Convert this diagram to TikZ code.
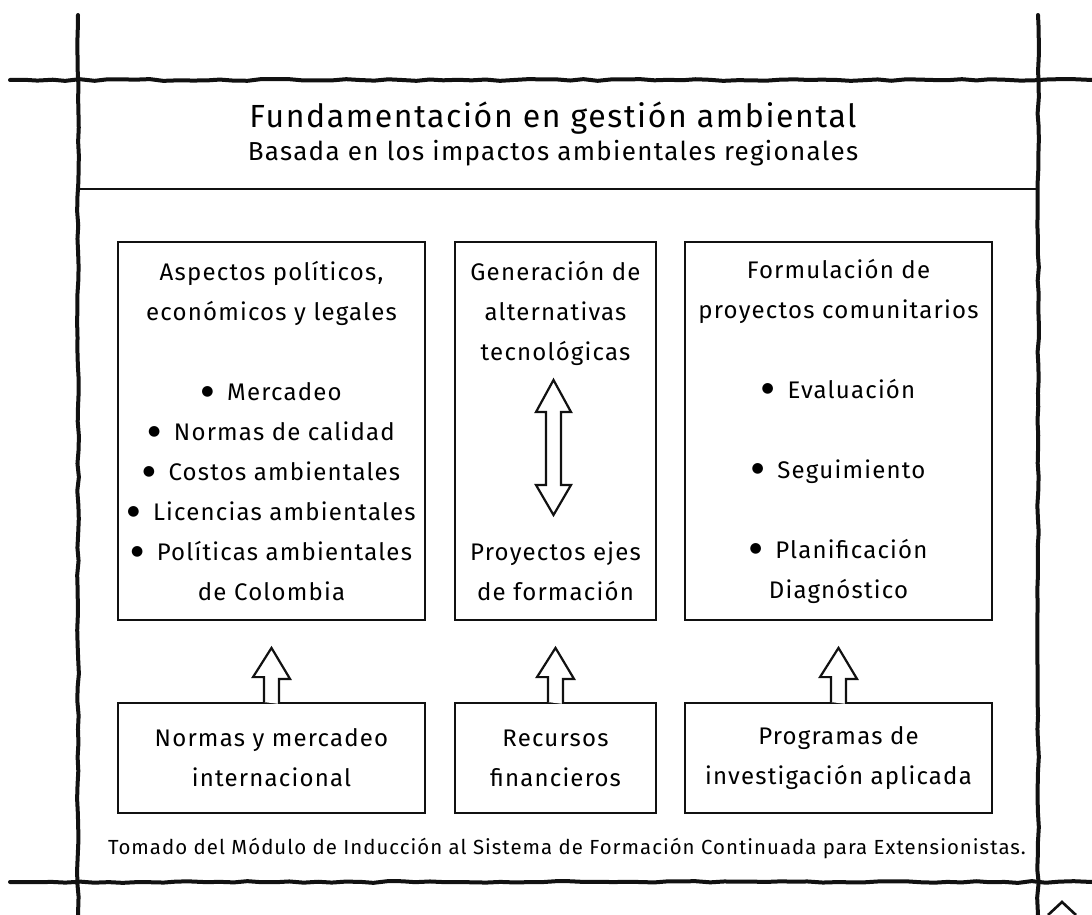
\documentclass[tikz,border=0pt]{standalone}
\usepackage{fontspec}
\setmainfont[LetterSpace=5]{Fira Sans}
\newfontfamily\dotfont{DejaVu Sans}
\newcommand{\bul}{\raisebox{2.6pt}{\dotfont\fontsize{7}{7}\selectfont ●}\hspace{3pt}}
\usepackage{xcolor}
\definecolor{ink}{HTML}{111111}
\usetikzlibrary{calc,decorations.pathmorphing}
\tikzset{
  frame/.style={draw=ink,line width=2pt,line cap=round,decorate,decoration={random steps,segment length=7pt,amplitude=0.45pt}},
  rule/.style={draw=ink,line width=0.7pt},
  box/.style={draw=ink,line width=0.9pt,align=center,inner sep=0pt,font=\fontsize{12}{20}\selectfont},
  bigbox/.style={box,minimum width=153.5pt,minimum height=189pt},
  midbox/.style={box,minimum width=100.5pt,minimum height=189pt},
  lowbox/.style={box,minimum height=55pt},
  hol/.style={draw=ink,line width=1.1pt,line join=miter,fill=white},
  ttl/.style={anchor=base,font=\fontsize{16}{19}\selectfont},
  sub/.style={anchor=base,font=\fontsize{13}{16}\selectfont},
  note/.style={font=\fontsize{10.2}{12}\selectfont},
}
\begin{document}
\begin{tikzpicture}[x=0.5pt,y=-0.5pt]
\useasboundingbox (0,0) rectangle (1092,915);
% page frame
\draw[frame] (10,80) -- (1092,80);
\draw[frame] (10,882) -- (1092,882);
\draw[frame] (78,15) -- (78,915);
\draw[frame] (1038,15) -- (1038,915);
\draw[ink,line width=1.3pt] (1048,915) -- (1062,902) -- (1076,915);
% title
\node[ttl] (tit) at (553,127) {Fundamentación en gestión ambiental};
\node[sub] (bas) at (553,161) {Basada en los impactos ambientales regionales};
\draw[rule] (78,189) -- (1038,189);
% upper row
\node[bigbox] (pol) at (271.5,431) {Aspectos políticos,\\económicos y legales\\[20pt]\bul{} Mercadeo\\\bul{} Normas de calidad\\\bul{} Costos ambientales\\\bul{} Licencias ambientales\\\bul{} Políticas ambientales\\de Colombia};
\node[midbox] (gen) at (555.5,431) {Generación de\\alternativas\\tecnológicas\\[80pt]Proyectos ejes\\de formación};
\node[bigbox] (pry) at (838.5,431) {Formulación de\\proyectos comunitarios\\[20pt]\bul{} Evaluación\\[20pt]\bul{} Seguimiento\\[20pt]\bul{} Planificación\\Diagnóstico};
% lower row
\node[lowbox,minimum width=153.5pt] (nor) at (271.5,758) {Normas y mercadeo\\internacional};
\node[lowbox,minimum width=100.5pt] (fin) at (555.5,758) {Recursos\\financieros};
\node[lowbox,minimum width=153.5pt] (inv) at (838.5,758) {Programas de\\investigación aplicada};
\node[note] (src) at (567,848) {Tomado del Módulo de Inducción al Sistema de Formación Continuada para Extensionistas.};
% block arrows
\draw[hol] ($(gen.center)+(-2,-51)$) -- ++(17.5,32) -- ++(-10,0) -- ++(0,73) -- ++(10,0) -- ++(-17.5,30)
  -- ++(-17.5,-30) -- ++(10,0) -- ++(0,-73) -- ++(-10,0) -- cycle;
\draw[hol] ($(nor.north)+(-7.5,0)$) -- ++(0,-25) -- ++(-11,0) -- ($(pol.south)+(0,27)$) -- ++(18.5,31) -- ++(-11,0) -- ++(0,25);
\draw[hol] ($(fin.north)+(-7.5,0)$) -- ++(0,-25) -- ++(-11,0) -- ($(gen.south)+(0,27)$) -- ++(18.5,31) -- ++(-11,0) -- ++(0,25);
\draw[hol] ($(inv.north)+(-7.5,0)$) -- ++(0,-25) -- ++(-11,0) -- ($(pry.south)+(0,27)$) -- ++(18.5,31) -- ++(-11,0) -- ++(0,25);
\end{tikzpicture}
\end{document}
